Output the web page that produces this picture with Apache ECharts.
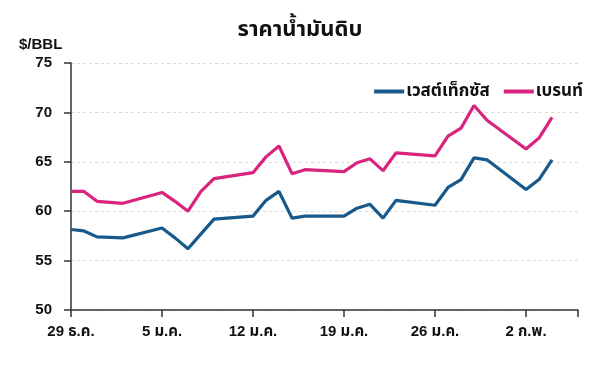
<!DOCTYPE html>
<html>
<head>
<meta charset="utf-8">
<script src="https://cdn.jsdelivr.net/npm/echarts@6/dist/echarts.min.js"></script>
<style>
html,body{margin:0;padding:0;background:#fff;}
#c{width:600px;height:365px;}
</style>
</head>
<body>
<div id="c"></div>
<script>
var titleText = 'ราคาน้ำมันดิบ';
var yUnit = '$/BBL';
var seriesNames = ['เวสต์เท็กซัส', 'เบรนท์'];
var startDate = '2025-12-29';
var dates = ['2025-12-29','2025-12-30','2025-12-31','2026-01-02','2026-01-05','2026-01-06','2026-01-07','2026-01-08','2026-01-09',
  '2026-01-12','2026-01-13','2026-01-14','2026-01-15','2026-01-16','2026-01-19','2026-01-20','2026-01-21','2026-01-22','2026-01-23',
  '2026-01-26','2026-01-27','2026-01-28','2026-01-29','2026-01-30','2026-02-02','2026-02-03','2026-02-04'];
var wti = [58.15, 58.0, 57.4, 57.3, 58.3, 57.3, 56.2, 57.7, 59.2,
  59.5, 61.1, 62.0, 59.3, 59.5, 59.5, 60.3, 60.7, 59.3, 61.1,
  60.6, 62.4, 63.2, 65.4, 65.2, 62.2, 63.2, 65.2];
var brent = [62.0, 62.0, 61.0, 60.8, 61.9, 61.0, 60.0, 62.0, 63.3,
  63.9, 65.5, 66.6, 63.8, 64.2, 64.0, 64.9, 65.3, 64.1, 65.9,
  65.6, 67.6, 68.4, 70.7, 69.2, 66.3, 67.4, 69.5];
var xTickLabels = ['29 ธ.ค.', '5 ม.ค.', '12 ม.ค.', '19 ม.ค.', '26 ม.ค.', '2 ก.พ.'];
var yMin = 50, yMax = 75, yStep = 5;
var xSpanDays = 39, xStepDays = 7;

var DAY = 86400000;
var t0 = Date.parse(startDate + 'T00:00:00Z');
function dayIndex(d){ return Math.round((Date.parse(d + 'T00:00:00Z') - t0) / DAY); }
function pairs(vals){ return dates.map(function(d,i){ return [dayIndex(d), vals[i]]; }); }

var FONT = '"Liberation Sans", "Noto Sans Thai", "Noto Sans", sans-serif';
var BLUE = '#17598a', PINK = '#d8237f';

var chart = echarts.init(document.getElementById('c'), null, {renderer:'canvas'});
chart.setOption({
  backgroundColor: '#fff',
  animation: false,
  textStyle: {fontFamily: FONT},
  title: {
    text: titleText, left: 'center', top: 14,
    textStyle: {fontSize: 22, fontWeight: 'bold', color: '#111', fontFamily: FONT}
  },
  graphic: [{
    type: 'text', left: 19, top: 37,
    style: {text: yUnit, font: 'bold 15px ' + FONT, fill: '#111'}
  }],
  legend: {
    right: 12, top: 78, itemGap: 14,
    icon: 'rect', itemWidth: 30, itemHeight: 4,
    textStyle: {fontSize: 17, fontWeight: 'bold', color: '#111', fontFamily: FONT, padding: [0,0,0,-3]},
    data: seriesNames
  },
  grid: {left: 71, right: 22, top: 63, bottom: 55, containLabel: false},
  xAxis: {
    type: 'value', min: 0, max: xSpanDays, interval: xStepDays,
    axisLine: {show: true, lineStyle: {color: '#333', width: 1.5}},
    axisTick: {show: true, length: 7, lineStyle: {color: '#333', width: 1.5}},
    splitLine: {show: false},
    axisLabel: {
      margin: 14, fontSize: 15, fontWeight: 'bold', color: '#111', fontFamily: FONT,
      formatter: function(v){ var k = Math.round(v / xStepDays); return xTickLabels[k] || ''; }
    }
  },
  yAxis: {
    type: 'value', min: yMin, max: yMax, interval: yStep,
    axisLine: {show: true, lineStyle: {color: '#333', width: 1.5}},
    axisTick: {show: true, length: 7, lineStyle: {color: '#333', width: 1.5}},
    splitLine: {show: true, lineStyle: {color: '#dcdcdc', type: [3,3], width: 1}},
    axisLabel: {margin: 19, fontSize: 15, fontWeight: 'bold', color: '#111', fontFamily: FONT}
  },
  series: [
    {name: seriesNames[0], type: 'line', data: pairs(wti), showSymbol: false, symbol: 'none',
     lineStyle: {color: BLUE, width: 3.2}, itemStyle: {color: BLUE}},
    {name: seriesNames[1], type: 'line', data: pairs(brent), showSymbol: false, symbol: 'none',
     lineStyle: {color: PINK, width: 3.2}, itemStyle: {color: PINK}}
  ]
});
</script>
</body>
</html>
